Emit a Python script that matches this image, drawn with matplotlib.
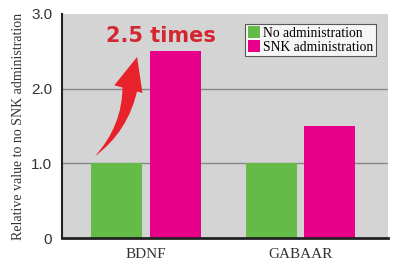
import numpy as np
import matplotlib.pyplot as plt
from matplotlib.patches import FancyArrowPatch

# data
genes = ['BDNF', 'GABAAR']
no_admin = [1.0, 1.0]
snk_admin = [2.5, 1.5]
series_labels = ['No administration', 'SNK administration']
yticks = [0, 1, 2, 3]
ytick_labels = ['0', '1.0', '2.0', '3.0']

fig = plt.figure(figsize=(4.04, 2.63), dpi=100)
ax = fig.add_axes([0.153, 0.095, 0.807, 0.852])

x = np.arange(len(genes))
w = 0.33
off = 0.19
ax.bar(x - off, no_admin, w, color='#64bb47', label=series_labels[0], zorder=2)
ax.bar(x + off, snk_admin, w, color='#e8008a', label=series_labels[1], zorder=2)

ax.set_facecolor('#d4d4d4')
ax.set_xlim(-0.544, 1.566)
ax.set_ylim(0, 3.0)
ax.set_yticks(yticks)
ax.set_yticklabels(ytick_labels, fontfamily='Liberation Sans', fontsize=11, color='#333333')
ax.set_xticks(x)
ax.set_xticklabels(genes, fontfamily='Liberation Serif', fontsize=11, color='#333333')
ax.tick_params(axis='x', length=0, pad=7)
ax.tick_params(axis='y', length=0, pad=7)

for v in [1, 2]:
    ax.axhline(v, color='#888888', lw=1.0, zorder=1)

for s in ['top', 'right']:
    ax.spines[s].set_visible(False)
ax.spines['left'].set_linewidth(1.5)
ax.spines['bottom'].set_linewidth(2)
ax.spines['left'].set_color('#222222')
ax.spines['bottom'].set_color('#222222')

ax.set_ylabel('Relative value to no SNK administration', fontfamily='Liberation Serif',
              fontsize=10, color='#333333', labelpad=4)

leg = ax.legend(loc='upper right', bbox_to_anchor=(0.975, 0.975), prop={'family': 'Liberation Serif', 'size': 9.8},
                frameon=True, fancybox=False, edgecolor='#333333', handlelength=0.9, handleheight=0.9,
                handletextpad=0.2, borderpad=0.2, labelspacing=0.05, borderaxespad=0.3)
leg.get_frame().set_linewidth(0.8)

# curved tapering arrow: wedge body (drawn from head back to tail) + arrow head
arrow_red = '#e8222a'
body = FancyArrowPatch((-0.10, 2.05), (-0.343, 1.07),
                       connectionstyle='arc3,rad=-0.2',
                       arrowstyle='wedge,tail_width=11,shrink_factor=0.5',
                       color=arrow_red, lw=0, zorder=3)
ax.add_patch(body)
head = FancyArrowPatch((-0.115, 1.98), (-0.052, 2.46),
                       arrowstyle='simple,head_width=21,head_length=24,tail_width=1',
                       color=arrow_red, lw=0, zorder=3)
ax.add_patch(head)
ax.text(0.10, 2.70, '2.5 times', color='#d42630', fontsize=15, fontweight='bold',
        ha='center', va='center', fontfamily='DejaVu Sans', zorder=4)

fig.savefig('out.png', dpi=100)
